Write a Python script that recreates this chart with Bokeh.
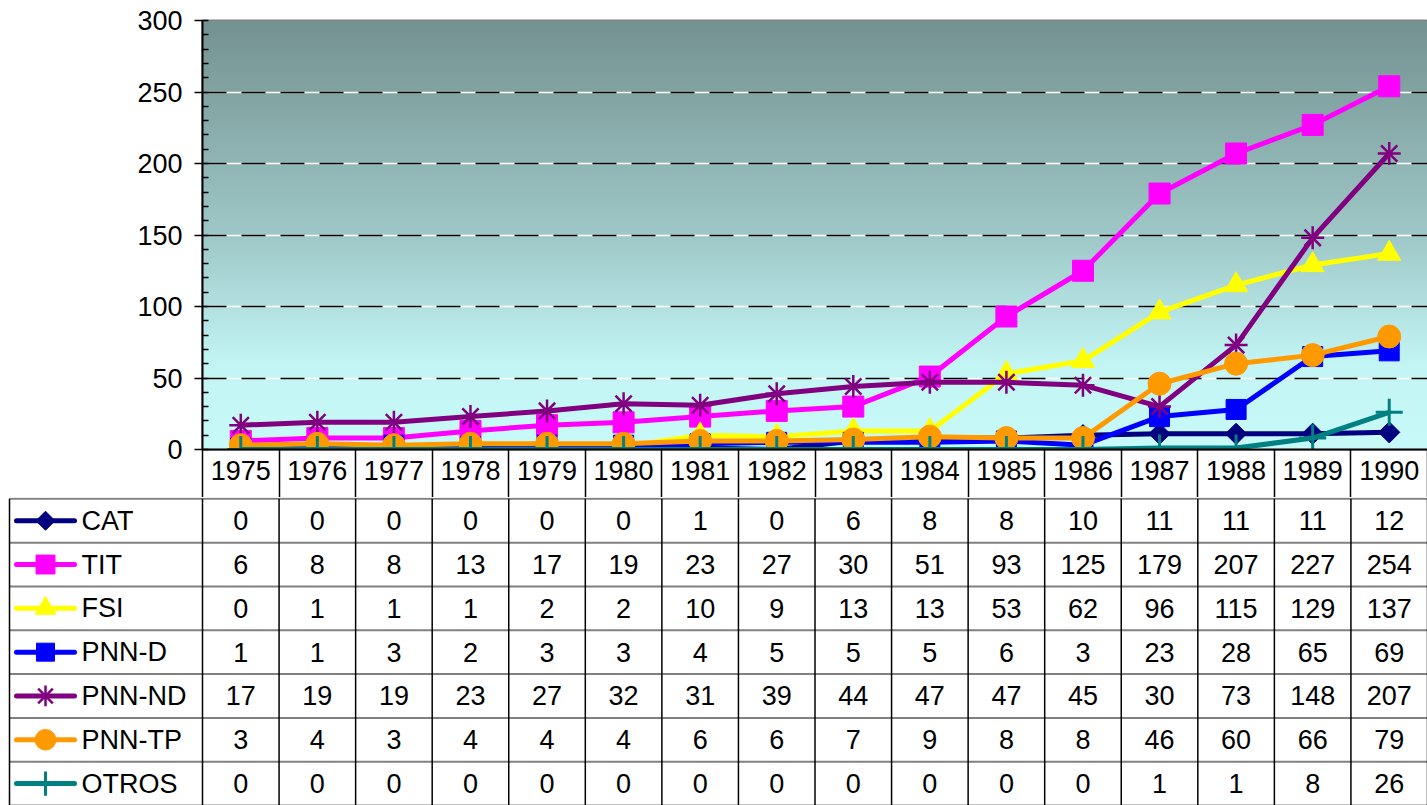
import numpy as np
from bokeh.plotting import figure
from bokeh.models import FixedTicker, Range1d, Grid
from bokeh.core.properties import value
from bokeh.embed import file_html
from bokeh.resources import INLINE

# ---------------- data ----------------
years = ["1975", "1976", "1977", "1978", "1979", "1980", "1981", "1982",
         "1983", "1984", "1985", "1986", "1987", "1988", "1989", "1990"]
names = ["CAT", "TIT", "FSI", "PNN-D", "PNN-ND", "PNN-TP", "OTROS"]
cat    = [0, 0, 0, 0, 0, 0, 1, 0, 6, 8, 8, 10, 11, 11, 11, 12]
tit    = [6, 8, 8, 13, 17, 19, 23, 27, 30, 51, 93, 125, 179, 207, 227, 254]
fsi    = [0, 1, 1, 1, 2, 2, 10, 9, 13, 13, 53, 62, 96, 115, 129, 137]
pnn_d  = [1, 1, 3, 2, 3, 3, 4, 5, 5, 5, 6, 3, 23, 28, 65, 69]
pnn_nd = [17, 19, 19, 23, 27, 32, 31, 39, 44, 47, 47, 45, 30, 73, 148, 207]
pnn_tp = [3, 4, 3, 4, 4, 4, 6, 6, 7, 9, 8, 8, 46, 60, 66, 79]
otros  = [0, 0, 0, 0, 0, 0, 0, 0, 0, 0, 0, 0, 1, 1, 8, 26]
y_ticks = [0, 50, 100, 150, 200, 250, 300]

series = [cat, tit, fsi, pnn_d, pnn_nd, pnn_tp, otros]
colors = ["#000080", "#FF00FF", "#FFFF00", "#0000FF", "#800080", "#FF9900", "#008080"]
# (marker, size, angle, line_width)
markers = [("square", 15, np.pi / 4, 1), ("square", 21, 0, 1), ("triangle", 23, 0, 1),
           ("square", 20, 0, 1), ("asterisk", 23, 0, 2.5), ("circle", 23, 0, 1),
           ("cross", 27, 0, 3)]

FONT = "Liberation Sans"
FS = "27px"
W = 1427
BL = 202
HDR = 48
ncol = len(years)
xs = list(range(ncol))
colw = (W - BL) / ncol

# ---------------- chart ----------------
p = figure(width=W, height=497, output_backend="svg", toolbar_location=None,
           x_range=Range1d(-0.5, ncol - 0.5), y_range=Range1d(0, 300),
           min_border_left=BL, min_border_right=0, min_border_top=20,
           min_border_bottom=HDR)
p.background_fill_color = "white"
p.border_fill_color = "white"
p.outline_line_color = "#808080"
p.outline_line_width = 2

# gradient background
stops_v = [0, 60, 150, 300]
stops_c = [(200, 250, 250), (195, 245, 245), (158, 200, 199), (116, 146, 144)]
nrow = 300
vals = np.linspace(0, 300, nrow)
img = np.zeros((nrow, 1), dtype=np.uint32)
view = img.view(dtype=np.uint8).reshape((nrow, 1, 4))
for ch in range(3):
    view[:, 0, ch] = np.interp(vals, stops_v, [c[ch] for c in stops_c]).astype(np.uint8)
view[:, 0, 3] = 255
p.image_rgba(image=[img], x=-0.5, y=0, dw=ncol, dh=300, level="image")

# grid: white solid under black dashes
grid_ticker = FixedTicker(ticks=y_ticks[1:-1])
p.xgrid.visible = False
p.ygrid.ticker = grid_ticker
p.ygrid.grid_line_color = "white"
p.ygrid.grid_line_width = 1.5
g2 = Grid(dimension=1, ticker=grid_ticker, grid_line_color="black",
          grid_line_width=1.5, grid_line_dash="24 15")
p.add_layout(g2, "center")

# axes
yax = p.yaxis[0]
yax.ticker = FixedTicker(ticks=y_ticks, minor_ticks=list(range(0, 301, 10)))
yax.major_tick_out = 8
yax.major_tick_in = 0
yax.minor_tick_in = 6
yax.minor_tick_out = 0
yax.major_tick_line_color = "black"
yax.minor_tick_line_color = "black"
yax.major_tick_line_width = 1.5
yax.minor_tick_line_width = 1.5
yax.axis_line_color = "black"
yax.axis_line_width = 2
yax.major_label_text_font = FONT
yax.major_label_text_font_size = FS
yax.major_label_text_color = "black"
yax.major_label_standoff = 12

xax = p.xaxis[0]
xax.ticker = FixedTicker(ticks=xs, minor_ticks=[i - 0.5 for i in range(ncol + 1)])
xax.major_label_overrides = {i: y for i, y in enumerate(years)}
xax.major_tick_in = 0
xax.major_tick_out = 0
xax.minor_tick_in = 0
xax.minor_tick_out = HDR
xax.minor_tick_line_color = "black"
xax.minor_tick_line_width = 1.5
xax.axis_line_color = "black"
xax.axis_line_width = 2
xax.major_label_text_font = FONT
xax.major_label_text_font_size = FS
xax.major_label_text_color = "black"
xax.major_label_standoff = -37

for vals_s, col, (mk, sz, ang, lw) in zip(series, colors, markers):
    p.line(xs, vals_s, line_color=col, line_width=5)
    p.scatter(xs, vals_s, marker=mk, size=sz, angle=ang, fill_color=col,
              line_color=col, line_width=lw)

# ---------------- table ----------------
x0 = -0.5 - BL / colw
t = figure(width=W, height=308, output_backend="svg", toolbar_location=None,
           x_range=Range1d(x0, ncol - 0.5), y_range=Range1d(len(names), -0.03),
           min_border=0, min_border_left=0, min_border_right=0,
           min_border_top=0, min_border_bottom=0)
t.axis.visible = False
t.grid.visible = False
t.outline_line_color = None
t.background_fill_color = "white"
t.border_fill_color = "white"

nr = len(names)
# horizontal row lines
t.segment(x0=[x0 + 9 / colw] * (nr + 1), y0=list(range(nr + 1)), x1=[ncol - 0.5] * (nr + 1),
          y1=list(range(nr + 1)), line_color="#808080", line_width=2)
# vertical lines
bounds = [i - 0.5 for i in range(ncol + 1)] + [x0 + 9 / colw]
t.segment(x0=bounds, y0=[0] * len(bounds), x1=bounds, y1=[nr] * len(bounds),
          line_color="black", line_width=1.5)

# values
tx, ty, tt = [], [], []
for r, vals_s in enumerate(series):
    for c, v in enumerate(vals_s):
        tx.append(c)
        ty.append(r + 0.5)
        tt.append(str(v))
t.text(tx, ty, text=tt, text_align="center", text_baseline="middle",
       text_font=value(FONT), text_font_size=FS, text_color="black")

# legend keys
lx0 = x0 + 16 / colw
lx1 = x0 + 74 / colw
lxm = x0 + 45 / colw
ltx = x0 + 81 / colw
rows_c = [r + 0.5 for r in range(nr)]
t.segment(x0=[lx0] * nr, y0=rows_c, x1=[lx1] * nr, y1=rows_c, line_color=colors,
          line_width=5, line_cap="round")
for r, (col, (mk, sz, ang, lw)) in enumerate(zip(colors, markers)):
    t.scatter([lxm], [r + 0.5], marker=mk, size=sz * 0.9, angle=ang, fill_color=col,
              line_color=col, line_width=lw)
t.text([ltx] * nr, rows_c, text=names, text_align="left", text_baseline="middle",
       text_font=value(FONT), text_font_size=FS, text_color="black")

open("out.html", "w").write(file_html([p, t], INLINE))
